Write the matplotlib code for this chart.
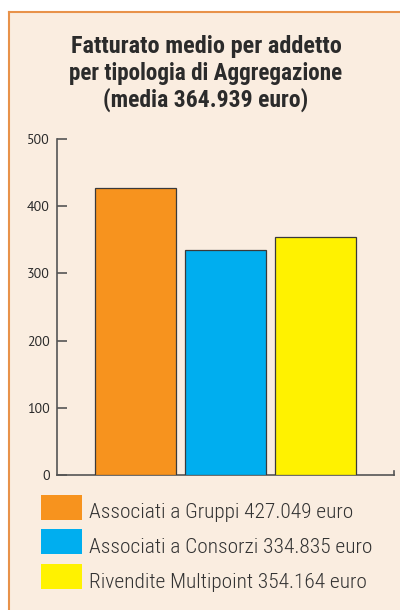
import matplotlib
matplotlib.use("Agg")
import matplotlib.pyplot as plt
from matplotlib.patches import Rectangle
from matplotlib.lines import Line2D

# Data
categories = ["Associati a Gruppi", "Associati a Consorzi", "Rivendite Multipoint"]
values = [427.049, 334.835, 354.164]
value_labels = ["427.049", "334.835", "354.164"]
colors = ["#F7931E", "#00AEEF", "#FFF200"]
yticks = [0, 100, 200, 300, 400, 500]
title_lines = ["Fatturato medio per addetto",
               "per tipologia di Aggregazione",
               "(media 364.939 euro)"]

cond = ["Roboto Condensed", "DejaVu Sans"]
body = ["PT Sans", "DejaVu Sans"]

bg = "#FAEDE0"
border = "#E8924A"
axis_col = "#555555"
text_col = "#2b2b2b"

W, H = 400, 610
fig = plt.figure(figsize=(W / 100, H / 100), dpi=100)
fig.patch.set_facecolor("white")
renderer = fig.canvas.get_renderer()


def fit(txt, width_px):
    """Scale a text's font size so that it spans the given width in pixels."""
    w = txt.get_window_extent(renderer=renderer).width
    txt.set_fontsize(txt.get_fontsize() * width_px / w)


# Panel background with orange left/top border
fig.add_artist(Rectangle((9 / W, 0), 1 - 9 / W, 1 - 12 / H, transform=fig.transFigure,
                         facecolor=bg, edgecolor="none", zorder=0))
fig.add_artist(Line2D([9 / W, 9 / W], [0, 1 - 12 / H], transform=fig.transFigure,
                      color=border, lw=1.5, zorder=1))
fig.add_artist(Line2D([9 / W, 1], [1 - 12 / H, 1 - 12 / H], transform=fig.transFigure,
                      color=border, lw=1.5, zorder=1))

# Title
title_baselines = [53, 80, 107]
title_widths = [271, 274, 205]
for line, yb, wpx in zip(title_lines, title_baselines, title_widths):
    t = fig.text(206 / W, 1 - yb / H, line, ha="center", va="baseline",
                 fontsize=18, fontweight="bold", family=cond, color=text_col)
    fit(t, wpx)

# Axes
ax = fig.add_axes([57 / W, 1 - 475 / H, (394 - 57) / W, (475 - 139) / H])
ax.set_facecolor("none")
x = list(range(len(values)))
ax.bar(x, values, width=0.9, color=colors, edgecolor="#3a3a3a", linewidth=0.9, zorder=3)
ax.set_xlim(-0.872, 2.872)
ax.set_ylim(0, 500)
ax.set_yticks(yticks)
ax.set_yticklabels([str(t) for t in yticks], family=body, fontsize=10, color=text_col)
ax.set_xticks([])
for s in ["top", "right"]:
    ax.spines[s].set_visible(False)
for s in ["left", "bottom"]:
    ax.spines[s].set_color(axis_col)
    ax.spines[s].set_linewidth(1.2)
ax.tick_params(axis="y", direction="in", length=7, width=1.2, color=axis_col, pad=5)
# small end mark at the right of the baseline
ax.plot([1, 1], [0, 0.012], transform=ax.transAxes, color=axis_col, lw=1.2, clip_on=False)

# Legend
sw_top = [495, 529, 564]
baselines = [518, 553, 588]
size = None
for cat, val, col, top, yb in zip(categories, value_labels, colors, sw_top, baselines):
    fig.add_artist(Rectangle((41 / W, 1 - (top + 25) / H), 41 / W, 25 / H,
                             transform=fig.transFigure, facecolor=col,
                             edgecolor="none", zorder=2))
    t = fig.text(89 / W, 1 - yb / H, f"{cat} {val} euro", ha="left", va="baseline",
                 fontsize=15, fontweight="light", family=cond, color="#333333")
    if size is None:
        fit(t, 266)
        size = t.get_fontsize()
    else:
        t.set_fontsize(size)

fig.savefig("out.png", dpi=100, facecolor=fig.get_facecolor())
